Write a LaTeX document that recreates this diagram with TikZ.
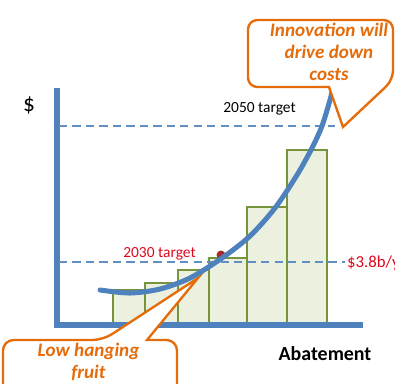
\documentclass[tikz,border=0pt]{standalone}
\usepackage{fontspec}
\setmainfont{Carlito}
\definecolor{axisblue}{HTML}{4F81BD}
\definecolor{barline}{HTML}{77933C}
\definecolor{barfill}{HTML}{EBF1DE}
\definecolor{calorange}{HTML}{E46C0A}
\definecolor{tgtred}{HTML}{DD0A1E}
\definecolor{dotred}{HTML}{A52A2A}
\newcommand{\lbl}{\fontsize{13.2}{15}\selectfont}
\begin{document}
\begin{tikzpicture}[x=0.03cm,y=-0.03cm,
   bar/.style={draw=barline,fill=barfill,line width=2.5pt},
   target/.style={draw=axisblue!90,line width=1.7pt,dash pattern=on 7pt off 4.5pt},
   callout/.style={draw=calorange,fill=white,line width=2pt},
   calltext/.style={text=calorange,inner sep=0,align=center,
     font=\fontsize{16.3}{18.8}\selectfont\bfseries\itshape}]
   \useasboundingbox (0,0) rectangle (395,383);
   \clip (0,0) rectangle (395,383);
   \foreach \l/\r/\t in {113/145/290,145/178/283,178/209/270,209/247/258,247/287/207,287/327/150}
     \draw[bar] (\l,325) rectangle (\r,\t);
   \draw[axisblue,line width=4.3pt,line join=miter] (57,88) -- (57,325) -- (363,325);
   \draw[target] (59,126) -- (335,126);
   \draw[target] (59,262) -- (345,262);
   \draw[callout,rounded corners=9] (3,400) -- (3,340) -- (103,340) [sharp corners] -- (198,278)
     -- (147,340) [rounded corners=9] -- (177,340) -- (177,400);
   \fill[dotred] (221,255) circle (4.5);
   \draw[axisblue,line width=4.3pt,line cap=round] plot[smooth] coordinates
     {(100,290) (130,293) (160,289) (190,278) (222,258) (250,236) (275,208)
      (297,175) (312,148) (322,126) (330,100) (333,88)};
   \draw[callout,rounded corners=8] (248,55) -- (248,20) -- (393,20) -- (393,80)
     [sharp corners] -- (343,127) -- (329,87) [rounded corners=8] -- (248,87) -- cycle;
   \node[anchor=base,font=\lbl] (t2050) at (259.5,112) {2050 target};
   \node[anchor=base,font=\lbl,text=tgtred] (t2030) at (159.5,257) {2030 target};
   \node[anchor=base west,font=\fontsize{14.3}{16}\selectfont,text=tgtred,inner sep=0] (price) at (347,267) {\$3.8b/y};
   \node[font=\fontsize{20}{24}\selectfont,inner sep=0] (dollar) at (29,105) {\$};
   \node[anchor=base,font=\fontsize{17}{20}\selectfont\bfseries] (abate) at (325,360) {Abatement};
   \node[calltext,anchor=north] (innov) at (329,23) {Innovation will\\drive down\\costs};
   \node[calltext,anchor=north] (lowfruit) at (88.5,343) {Low hanging\\fruit};
\end{tikzpicture}
\end{document}
